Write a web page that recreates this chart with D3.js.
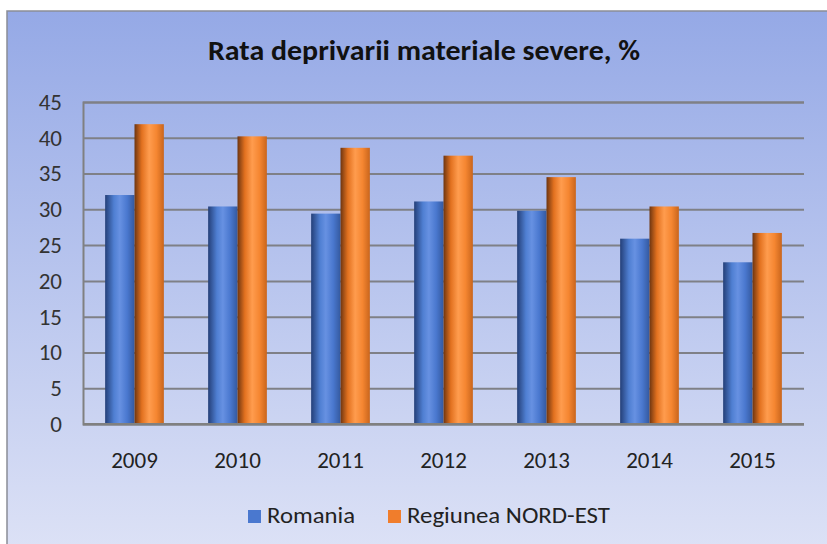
<!DOCTYPE html>
<html>
<head>
<meta charset="utf-8">
<script src="https://cdn.jsdelivr.net/npm/d3@7"></script>
<style>
  body { margin: 0; background: #fff; }
  svg { display: block; }
  svg text { font-family: Carlito, Lato, "Open Sans", sans-serif; }
</style>
</head>
<body>
<div id="chart"></div>
<script>
// chart data
const years = ["2009", "2010", "2011", "2012", "2013", "2014", "2015"];
const romania = [32.0, 30.4, 29.4, 31.1, 29.8, 25.9, 22.6];
const nordEst = [41.9, 40.2, 38.6, 37.5, 34.5, 30.4, 26.7];
const seriesNames = ["Romania", "Regiunea NORD-EST"];
const yTicks = [0, 5, 10, 15, 20, 25, 30, 35, 40, 45];

const width = 827, height = 544;
const margin = { top: 102, right: 23, bottom: 120, left: 83 };

const svg = d3.select("#chart").append("svg")
    .attr("width", width)
    .attr("height", height);

const defs = svg.append("defs");

// panel background
const bg = defs.append("linearGradient").attr("id", "bg")
    .attr("x1", 0).attr("y1", 0).attr("x2", 0).attr("y2", 1);
bg.append("stop").attr("offset", "0%").attr("stop-color", "#95a9e6");
bg.append("stop").attr("offset", "100%").attr("stop-color", "#dde2f6");

// cylinder-ish bar fills
function barGrad(id, stops) {
    const g = defs.append("linearGradient").attr("id", id)
        .attr("x1", 0).attr("y1", 0).attr("x2", 1).attr("y2", 0);
    stops.forEach(s => g.append("stop").attr("offset", s[0]).attr("stop-color", s[1]));
}
barGrad("gBlue", [["0%", "#243f78"], ["30%", "#4f7fd2"], ["50%", "#6791e2"], ["75%", "#4a78cf"], ["100%", "#34599f"]]);
barGrad("gOrange", [["0%", "#6e3510"], ["25%", "#e2711f"], ["50%", "#ff9c4e"], ["75%", "#f58631"], ["100%", "#c9651c"]]);

svg.append("rect")
    .attr("x", 7).attr("y", 11)
    .attr("width", width).attr("height", height)
    .attr("fill", "url(#bg)")
    .attr("stroke", "#8a8d96")
    .attr("stroke-width", 1.5);

// scales
const x = d3.scaleBand()
    .domain(years)
    .range([margin.left, width - margin.right])
    .paddingInner(0.43)
    .paddingOuter(0.215);

const xs = d3.scaleBand()
    .domain(seriesNames)
    .range([0, x.bandwidth()]);

const y = d3.scaleLinear()
    .domain([0, 45])
    .range([height - margin.bottom, margin.top]);

// grid
const yAxis = d3.axisLeft(y)
    .tickValues(yTicks)
    .tickSize(-(width - margin.left - margin.right))
    .tickPadding(21);

const gy = svg.append("g")
    .attr("transform", `translate(${margin.left},0)`)
    .call(yAxis);
gy.attr("font-size", null).attr("font-family", null);
gy.select(".domain").attr("stroke", "#808080").attr("stroke-width", 2);
gy.selectAll(".tick line").attr("stroke", "#7f8086").attr("stroke-width", 2);
gy.selectAll(".tick text")
    .attr("fill", "#333")
    .style("font-size", "23px");

// bars
const data = years.map((yr, i) => ({ year: yr, vals: [romania[i], nordEst[i]] }));
const fills = ["url(#gBlue)", "url(#gOrange)"];

const groups = svg.append("g").selectAll("g")
    .data(data)
    .join("g")
    .attr("transform", d => `translate(${x(d.year)},0)`);

groups.selectAll("rect")
    .data(d => d.vals.map((v, j) => ({ name: seriesNames[j], v: v, j: j })))
    .join("rect")
    .attr("x", d => xs(d.name))
    .attr("y", d => y(d.v))
    .attr("width", xs.bandwidth())
    .attr("height", d => y(0) - y(d.v))
    .attr("fill", d => fills[d.j]);

// x labels
const xAxis = d3.axisBottom(x).tickSize(0).tickPadding(28);
const gx = svg.append("g")
    .attr("transform", `translate(0,${y(0)})`)
    .call(xAxis);
gx.attr("font-size", null).attr("font-family", null);
gx.select(".domain").attr("stroke", "#808080").attr("stroke-width", 2)
    .attr("d", `M${margin.left},0H${width - margin.right}`);
gx.selectAll(".tick text")
    .attr("fill", "#222")
    .style("font-size", "23px");

// title
svg.append("text")
    .attr("x", 424)
    .attr("y", 60)
    .attr("text-anchor", "middle")
    .attr("fill", "#111")
    .attr("textLength", 432)
    .attr("lengthAdjust", "spacingAndGlyphs")
    .style("font-size", "28px")
    .style("font-weight", "bold")
    .text("Rata deprivarii materiale severe, %");

// legend
const legendColors = ["#4a78cf", "#f07d2c"];
const legendX = [248, 388];
const legendW = [88, 203];
const legend = svg.append("g").selectAll("g")
    .data(seriesNames)
    .join("g")
    .attr("transform", (d, i) => `translate(${legendX[i]},516)`);
legend.append("rect")
    .attr("x", 0).attr("y", -6)
    .attr("width", 13).attr("height", 13)
    .attr("fill", (d, i) => legendColors[i]);
legend.append("text")
    .attr("x", 19)
    .attr("y", 7)
    .attr("fill", "#222")
    .attr("textLength", (d, i) => legendW[i])
    .attr("lengthAdjust", "spacingAndGlyphs")
    .style("font-size", "22px")
    .text(d => d);
</script>
</body>
</html>
